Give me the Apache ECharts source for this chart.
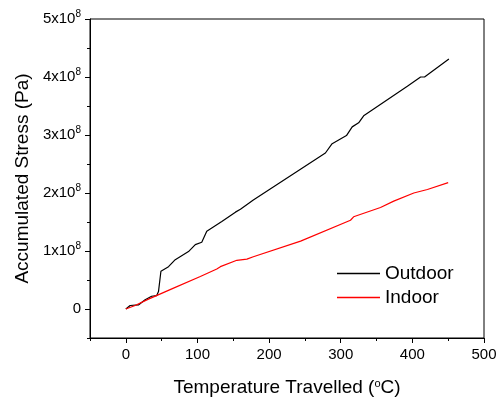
<!DOCTYPE html>
<html>
<head>
<meta charset="utf-8">
<script src="https://cdn.jsdelivr.net/npm/echarts@6/dist/echarts.min.js"></script>
<style>
  html, body { margin: 0; padding: 0; background: #fff; }
  #chart { width: 497px; height: 401px; }
</style>
</head>
<body>
<div id="chart"></div>
<script>
// data (stress in units of 1e8 Pa)
var outdoorX = [0, 6, 17.6, 27, 36, 43, 45.6, 49, 59.6, 69, 87.5, 97, 106, 113, 134, 153, 160, 178, 278.6, 288, 308, 316, 325, 332, 393, 411.5, 417, 451];
var outdoorY = [0, 0.06, 0.07, 0.16, 0.22, 0.23, 0.30, 0.65, 0.73, 0.85, 0.99, 1.11, 1.15, 1.34, 1.51, 1.67, 1.72, 1.88, 2.69, 2.85, 2.99, 3.14, 3.21, 3.33, 3.84, 4.0, 4.0, 4.31];
var indoorX = [0, 13, 31.6, 66.6, 104, 127, 132, 155, 169, 178, 244, 313.6, 318, 355.5, 374, 402, 421, 450];
var indoorY = [0, 0.06, 0.17, 0.36, 0.56, 0.69, 0.73, 0.84, 0.86, 0.90, 1.17, 1.53, 1.59, 1.75, 1.86, 2.0, 2.06, 2.18];
var xMajor = [0, 100, 200, 300, 400, 500];
var yMajor = [0, 1, 2, 3, 4, 5];
var seriesNames = ["Outdoor", "Indoor"];

var FONT = 'Arial, "Liberation Sans", sans-serif';

function pairs(xs, ys) {
  return xs.map(function (x, i) { return [x, ys[i] * 1e8]; });
}

var chart = echarts.init(document.getElementById("chart"));

var option = {
  animation: false,
  backgroundColor: "#fff",
  textStyle: { fontFamily: FONT },
  grid: {
    left: 90, right: 13, top: 19, bottom: 63,
    outerBoundsMode: "none",
    show: true, borderColor: "#000", borderWidth: 1
  },
  legend: {
    orient: "vertical",
    left: 337, top: 264, padding: 0,
    icon: "rect",
    itemWidth: 43, itemHeight: 1.3, itemGap: 5,
    textStyle: { fontSize: 19, color: "#000", fontFamily: FONT },
    data: seriesNames
  },
  xAxis: [
    {
      type: "value", min: -50, max: 500, interval: 50, position: "bottom",
      name: "Temperature Travelled ({s|o}C)",
      nameLocation: "middle", nameGap: 40,
      nameTextStyle: {
        fontSize: 19, color: "#000", fontFamily: FONT,
        rich: { s: { fontSize: 11, verticalAlign: "top", lineHeight: 12, padding: [0, 0, 10, 0], fontFamily: FONT, color: "#000" } }
      },
      splitLine: { show: false },
      axisLine: { onZero: false, lineStyle: { color: "#000", width: 1 } },
      axisTick: { length: 5, customValues: xMajor, lineStyle: { color: "#000" } },
      axisLabel: { customValues: xMajor, fontSize: 15, color: "#000", margin: 9, fontFamily: FONT }
    },
    {
      type: "value", min: -50, max: 500, interval: 50, position: "bottom",
      splitLine: { show: false },
      axisLine: { show: false, onZero: false },
      axisTick: { length: 3, lineStyle: { color: "#000" } },
      axisLabel: { show: false }
    }
  ],
  yAxis: [
    {
      type: "value", min: -0.5e8, max: 5e8, interval: 0.5e8, position: "left",
      name: "Accumulated Stress (Pa)",
      nameLocation: "middle", nameGap: 57,
      nameTextStyle: { fontSize: 19, color: "#000", fontFamily: FONT },
      splitLine: { show: false },
      axisLine: { onZero: false, lineStyle: { color: "#000", width: 1 } },
      axisTick: { length: 5, customValues: yMajor.map(function (v) { return v * 1e8; }), lineStyle: { color: "#000" } },
      axisLabel: {
        customValues: yMajor.map(function (v) { return v * 1e8; }),
        margin: 9, color: "#000", fontSize: 15, fontFamily: FONT,
        formatter: function (v) {
          var n = Math.round(v / 1e8);
          if (n === 0) return "{a|0}";
          return "{a|" + n + "x10}{s|8}";
        },
        rich: {
          a: { fontSize: 15, color: "#000", fontFamily: FONT },
          s: { fontSize: 10, color: "#000", fontFamily: FONT, verticalAlign: "top", padding: [0, 0, 9, 0] }
        }
      }
    },
    {
      type: "value", min: -0.5e8, max: 5e8, interval: 0.5e8, position: "left",
      splitLine: { show: false },
      axisLine: { show: false, onZero: false },
      axisTick: { length: 3, lineStyle: { color: "#000" } },
      axisLabel: { show: false }
    }
  ],
  series: [
    {
      name: seriesNames[0], type: "line", symbol: "none", smooth: false,
      lineStyle: { color: "#000", width: 1.2 }, itemStyle: { color: "#000" },
      data: pairs(outdoorX, outdoorY)
    },
    {
      name: seriesNames[1], type: "line", symbol: "none", smooth: false,
      lineStyle: { color: "#ff0000", width: 1.2 }, itemStyle: { color: "#ff0000" },
      data: pairs(indoorX, indoorY)
    }
  ]
};

chart.setOption(option);
</script>
</body>
</html>
